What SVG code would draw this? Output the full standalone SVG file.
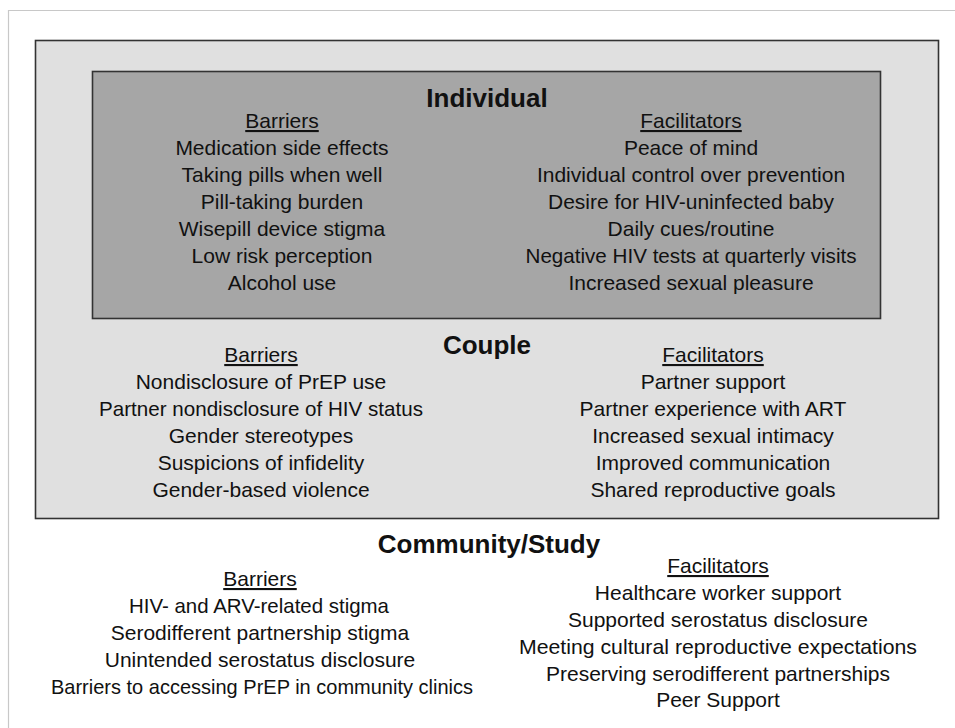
<svg xmlns="http://www.w3.org/2000/svg" width="955" height="728" viewBox="0 0 955 728">
<style>
  .t { font-family: "Liberation Sans", Arial, sans-serif; font-size: 21px; fill: #111; text-anchor: middle; }
  .h { font-family: "Liberation Sans", Arial, sans-serif; font-size: 26px; font-weight: bold; fill: #111; text-anchor: middle; }
  .u { text-decoration: underline; }
  .box { stroke: #333; stroke-width: 1.6; }
</style>
<rect width="955" height="728" fill="#ffffff"/>
<g id="frame">
  <path d="M8.5 728 V10.5 H955" fill="none" stroke="#c8c8c8" stroke-width="1.2"/>
</g>
<g id="couple">
  <rect class="box" x="35.5" y="40.5" width="903" height="478" fill="#e0e0e0"/>
  <text class="h" x="487" y="354">Couple</text>
  <text class="t u" x="261" y="362">Barriers</text>
  <text class="t" x="261" y="389">Nondisclosure of PrEP use</text>
  <text class="t" x="261" y="416" textLength="324" lengthAdjust="spacingAndGlyphs">Partner nondisclosure of HIV status</text>
  <text class="t" x="261" y="443">Gender stereotypes</text>
  <text class="t" x="261" y="470">Suspicions of infidelity</text>
  <text class="t" x="261" y="497">Gender-based violence</text>
  <text class="t u" x="713" y="362">Facilitators</text>
  <text class="t" x="713" y="389">Partner support</text>
  <text class="t" x="713" y="416">Partner experience with ART</text>
  <text class="t" x="713" y="443">Increased sexual intimacy</text>
  <text class="t" x="713" y="470">Improved communication</text>
  <text class="t" x="713" y="497">Shared reproductive goals</text>
</g>
<g id="individual">
  <rect class="box" x="92.5" y="71.5" width="788" height="247" fill="#a6a6a6"/>
  <text class="h" x="487" y="107">Individual</text>
  <text class="t u" x="282" y="128">Barriers</text>
  <text class="t" x="282" y="155">Medication side effects</text>
  <text class="t" x="282" y="182">Taking pills when well</text>
  <text class="t" x="282" y="209">Pill-taking burden</text>
  <text class="t" x="282" y="236">Wisepill device stigma</text>
  <text class="t" x="282" y="263">Low risk perception</text>
  <text class="t" x="282" y="290">Alcohol use</text>
  <text class="t u" x="691" y="128">Facilitators</text>
  <text class="t" x="691" y="155">Peace of mind</text>
  <text class="t" x="691" y="182">Individual control over prevention</text>
  <text class="t" x="691" y="209">Desire for HIV-uninfected baby</text>
  <text class="t" x="691" y="236">Daily cues/routine</text>
  <text class="t" x="691" y="263" textLength="331" lengthAdjust="spacingAndGlyphs">Negative HIV tests at quarterly visits</text>
  <text class="t" x="691" y="290">Increased sexual pleasure</text>
</g>
<g id="community">
  <text class="h" x="489" y="553">Community/Study</text>
  <text class="t u" x="260" y="586">Barriers</text>
  <text class="t" x="259" y="613" textLength="260" lengthAdjust="spacingAndGlyphs">HIV- and ARV-related stigma</text>
  <text class="t" x="260" y="640">Serodifferent partnership stigma</text>
  <text class="t" x="260" y="667">Unintended serostatus disclosure</text>
  <text class="t" x="262" y="694" textLength="422" lengthAdjust="spacingAndGlyphs">Barriers to accessing PrEP in community clinics</text>
  <text class="t u" x="718" y="573">Facilitators</text>
  <text class="t" x="718" y="600">Healthcare worker support</text>
  <text class="t" x="718" y="627">Supported serostatus disclosure</text>
  <text class="t" x="718" y="654" textLength="398" lengthAdjust="spacingAndGlyphs">Meeting cultural reproductive expectations</text>
  <text class="t" x="718" y="681">Preserving serodifferent partnerships</text>
  <text class="t" x="718" y="707">Peer Support</text>
</g>
</svg>
